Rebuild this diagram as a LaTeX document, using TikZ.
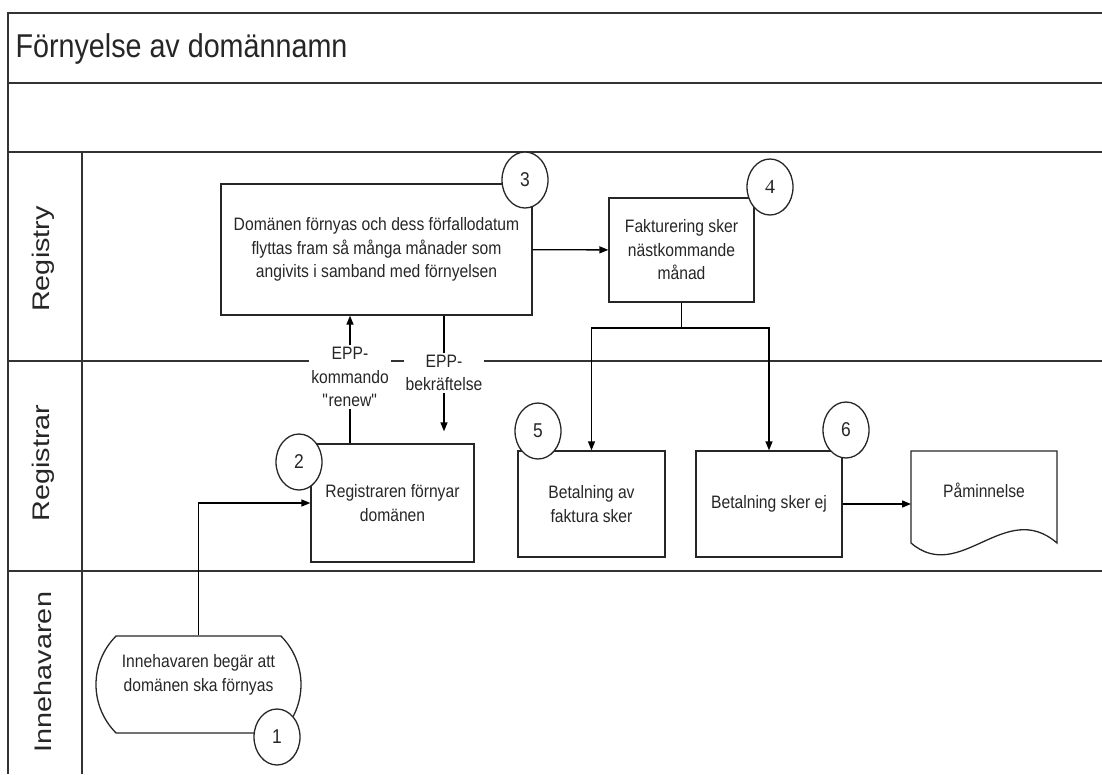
\documentclass[tikz,border=0pt]{standalone}
\usepackage{fontspec}
\setmainfont[FakeStretch=0.87]{Liberation Sans}
\newfontfamily\lanefont[FakeStretch=1.2]{Liberation Sans}
\newfontfamily\numserif{Liberation Serif}
\usetikzlibrary{arrows.meta,shapes.geometric,shapes.misc}

\begin{document}
\begin{tikzpicture}[x=1pt,y=1pt,
  every node/.style={font=\fontsize{18}{23.5}\selectfont,text=black!85},
  lane/.style={draw=black!80,line width=1.8pt},
  lanelbl/.style={rotate=90,font=\lanefont\fontsize{24}{28}\selectfont},
  box/.style={draw=black!85,line width=1.3pt,rectangle,align=center,inner sep=0pt},
  num/.style={draw=black!85,line width=1.3pt,ellipse,fill=white,minimum width=46pt,minimum height=56pt,inner sep=0pt,font=\fontsize{20}{22}\selectfont},
  lbl/.style={fill=white,align=center,inner sep=2pt},
  arr/.style={-{Triangle[length=9pt,width=7pt]}}]
\useasboundingbox (0,0) rectangle (1102,-774);
% swimlanes
\draw[lane] (1102,-13) -- (8,-13) -- (8,-774);
\foreach \y in {83,152,361,571} \draw[lane] (8,-\y) -- (1102,-\y);
\draw[lane] (82,-152) -- (82,-774);
\node[anchor=base west,font=\fontsize{33}{38}\selectfont] (title) at (12,-57) {Förnyelse av domännamn};
\node[lanelbl] (ry) at (43,-259) {Registry};
\node[lanelbl] (rr) at (43,-463) {Registrar};
\node[lanelbl] (ih) at (43,-672) {Innehavaren};
% steps
\node[box,rounded rectangle,rounded rectangle arc length=90,minimum width=205pt,minimum height=97pt] (start) at (198.5,-684.5) {Innehavaren begär att\\domänen ska förnyas\\~};
\node[box,minimum width=163pt,minimum height=118pt] (reg) at (392.5,-503) {Registraren förnyar\\domänen};
\node[box,minimum width=311pt,minimum height=131pt] (upd) at (376.5,-249.5) {Domänen förnyas och dess förfallodatum\\flyttas fram så många månader som\\angivits i samband med förnyelsen};
\node[box,minimum width=145pt,minimum height=104pt] (bill) at (681.5,-250) {Fakturering sker\\nästkommande\\månad};
\node[box,minimum width=147pt,minimum height=106pt] (pay) at (591.5,-504) {Betalning av\\faktura sker};
\node[box,minimum width=146pt,minimum height=106pt] (nopay) at (769,-504) {Betalning sker ej};
% document
\draw[draw=black!85,line width=1.3pt] (911,-543) -- (911,-451) -- (1057,-451) -- (1057,-543)
  .. controls (1005,-498) and (960,-585) .. (911,-543) -- cycle;
\node (remind) at (984,-490) {Påminnelse};
\coordinate (docin) at (911,-504);
% EPP labels
\node[lbl] (cmd) at (350,-377) {EPP-\\kommando\\\textquotedbl renew\textquotedbl};
\node[lbl] (ack) at (444,-373) {EPP-\\bekräftelse};
% connectors
\draw[arr,line width=1.3pt] (start.north) |- (reg.west);
\draw[line width=1.3pt] (reg.north -| cmd.south) -- (cmd.south);
\draw[arr,line width=1.3pt] (cmd.north) -- (cmd.north |- upd.south);
\draw[line width=1.3pt] (upd.south -| ack.north) -- (ack.north);
\draw[arr,line width=1.3pt,shorten >=12pt] (ack.south) -- (ack.south |- reg.north);
\draw[arr,line width=1.3pt] (upd) -- (bill);
\coordinate (split) at (681.5,-328);
\draw[line width=1.3pt] (bill) -- (split);
\draw[arr,line width=1.3pt] (split) -| (pay);
\draw[arr,line width=1.3pt] (split) -| (nopay);
\draw[arr,line width=1.3pt] (nopay) -- (docin);
% step numbers
\node[num] (n1) at (277,-737) {1};
\node[num] (n2) at (299,-462) {2};
\node[num] (n3) at (525,-180) {3};
\node[num] (n4) at (770,-187) {\numserif 4};
\node[num] (n5) at (538,-431) {5};
\node[num] (n6) at (846,-430) {6};
\end{tikzpicture}
\end{document}
